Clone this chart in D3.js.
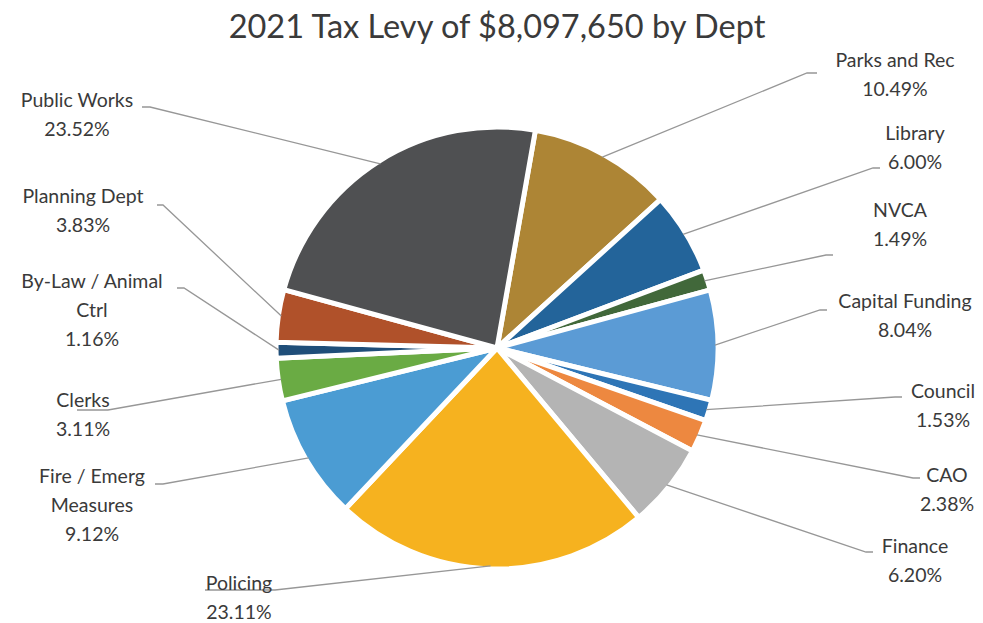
<!DOCTYPE html>
<html>
<head>
<meta charset="utf-8">
<script src="https://cdn.jsdelivr.net/npm/d3@7"></script>
<style>
  html, body { margin: 0; padding: 0; background: #fff; }
  svg { display: block; }
  .title { font-family: Lato, "Open Sans", sans-serif; fill: #3a3a3a; }
  .label { font-family: Lato, "Open Sans", sans-serif; fill: #3a3a3a; }
  .leader { fill: none; stroke: #979797; stroke-width: 1.3; }
</style>
</head>
<body>
<svg width="983" height="623"></svg>
<script>
// slices in clockwise order, starting just right of 12 o'clock
var categories = ['Parks and Rec', 'Library', 'NVCA', 'Capital Funding', 'Council', 'CAO',
                  'Finance', 'Policing', 'Fire / Emerg Measures', 'Clerks',
                  'By-Law / Animal Ctrl', 'Planning Dept', 'Public Works'];
var shares = [10.49, 6.00, 1.49, 8.04, 1.53, 2.38, 6.20, 23.11, 9.12, 3.11, 1.16, 3.83, 23.52];
// how each label breaks onto lines
var labelLines = [['Parks and Rec'], ['Library'], ['NVCA'], ['Capital Funding'], ['Council'], ['CAO'],
                  ['Finance'], ['Policing'], ['Fire / Emerg', 'Measures'], ['Clerks'],
                  ['By-Law / Animal', 'Ctrl'], ['Planning Dept'], ['Public Works']];
var colors = ['#ad8535', '#23649a', '#41683a', '#5b9bd5', '#2e75b6', '#ed8840',
              '#b4b4b4', '#f6b21f', '#4b9cd3', '#6aab44', '#1f4e79', '#b0512a', '#4f5052'];

// label layout: text centre x, first baseline y, leader start x/y, horizontal stub end x
var labelPos = [
  {x: 895, y: 67,  lx: 817, ly: 73,  kx: 807},
  {x: 915, y: 140, lx: 880, ly: 168, kx: 873},
  {x: 900, y: 217, lx: 833, ly: 255, kx: 826},
  {x: 905, y: 308, lx: 827, ly: 310, kx: 820},
  {x: 943, y: 398, lx: 902, ly: 397, kx: 895},
  {x: 947, y: 482, lx: 920, ly: 478, kx: 913},
  {x: 915, y: 553, lx: 873, ly: 552, kx: 866},
  {x: 239, y: 590, lx: 205, ly: 590, kx: 275},
  {x: 92,  y: 483, lx: 155, ly: 484, kx: 163},
  {x: 83,  y: 407, lx: 77,  ly: 410, kx: 108},
  {x: 92,  y: 288, lx: 177, ly: 288, kx: 184},
  {x: 83,  y: 203, lx: 157, ly: 205, kx: 163},
  {x: 77,  y: 107, lx: 142, ly: 107, kx: 150}
];

var svg = d3.select('svg'),
    cx = 497, cy = 348, radius = 221,
    rotation = 10 * Math.PI / 180;

svg.append('text')
  .attr('class', 'title')
  .attr('x', 497)
  .attr('y', 38)
  .attr('text-anchor', 'middle')
  .style('font-size', '32.5px')
  .text('2021 Tax Levy of $8,097,650 by Dept');

var pie = d3.pie()
  .sort(null)
  .value(function(d) { return d; })
  .startAngle(rotation)
  .endAngle(rotation + 2 * Math.PI);

var arcs = pie(shares);

var arc = d3.arc().innerRadius(0).outerRadius(radius);

var g = svg.append('g').attr('transform', 'translate(' + cx + ',' + cy + ')');

g.selectAll('path.slice')
  .data(arcs)
  .enter().append('path')
  .attr('class', 'slice')
  .attr('d', arc)
  .attr('fill', function(d, i) { return colors[i]; })
  .attr('stroke', '#fff')
  .attr('stroke-width', 5)
  .attr('stroke-linejoin', 'round');

// leader lines: stub beside the label, then straight to the slice edge at mid angle
svg.selectAll('path.leader')
  .data(arcs)
  .enter().append('path')
  .attr('class', 'leader')
  .attr('d', function(d, i) {
    var p = labelPos[i],
        a = (d.startAngle + d.endAngle) / 2,
        ex = cx + (radius - 3) * Math.sin(a),
        ey = cy - (radius - 3) * Math.cos(a);
    return 'M' + p.lx + ',' + p.ly + ' L' + p.kx + ',' + p.ly + ' L' + ex + ',' + ey;
  });

var labels = svg.selectAll('text.label')
  .data(arcs)
  .enter().append('text')
  .attr('class', 'label')
  .attr('text-anchor', 'middle')
  .style('font-size', '19.5px');

labels.each(function(d, i) {
  var t = d3.select(this),
      p = labelPos[i],
      lines = labelLines[i].concat([shares[i].toFixed(2) + '%']);
  lines.forEach(function(line, j) {
    t.append('tspan')
      .attr('x', p.x)
      .attr('y', p.y + j * 29)
      .text(line);
  });
});
</script>
</body>
</html>
